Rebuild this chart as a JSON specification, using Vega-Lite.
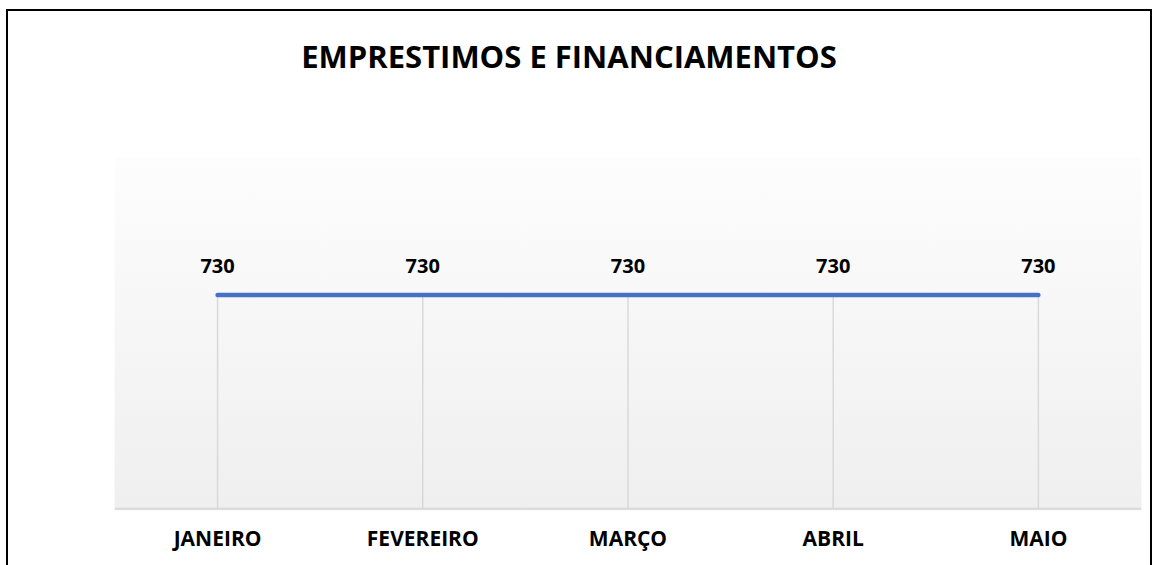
{
  "$schema": "https://vega.github.io/schema/vega-lite/v6.json",
  "autosize": {"type": "none"},
  "width": 1144,
  "height": 570,
  "padding": {"left": 7, "top": 10, "right": 9, "bottom": 0},
  "background": "#ffffff",
  "config": {
    "view": {"stroke": "#000000", "strokeWidth": 2, "fill": "#ffffff"},
    "font": "Open Sans"
  },
  "title": {
    "text": "EMPRESTIMOS E FINANCIAMENTOS",
    "font": "Open Sans",
    "fontSize": 31,
    "fontWeight": "bold",
    "color": "#000000",
    "anchor": "middle",
    "baseline": "alphabetic",
    "offset": -89,
    "dx": -10
  },
  "data": {
    "values": [
      {"month": "JANEIRO", "value": 730},
      {"month": "FEVEREIRO", "value": 730},
      {"month": "MARÇO", "value": 730},
      {"month": "ABRIL", "value": 730},
      {"month": "MAIO", "value": 730}
    ]
  },
  "layer": [
    {
      "mark": {
        "type": "rect",
        "fill": {
          "gradient": "linear",
          "x1": 0, "y1": 0, "x2": 0, "y2": 1,
          "stops": [
            {"offset": 0, "color": "#fdfdfd"},
            {"offset": 1, "color": "#efefef"}
          ]
        },
        "stroke": {
          "gradient": "linear",
          "x1": 0, "y1": 0, "x2": 0, "y2": 1,
          "stops": [
            {"offset": 0, "color": "#fdfdfd"},
            {"offset": 1, "color": "#efefef"}
          ]
        },
        "strokeWidth": 0.8
      },
      "encoding": {
        "x": {
          "field": "month",
          "type": "nominal",
          "sort": null,
          "scale": {
            "type": "band",
            "domain": ["JANEIRO", "FEVEREIRO", "MARÇO", "ABRIL", "MAIO"],
            "paddingInner": 0,
            "paddingOuter": 0.2875,
            "align": 0.915
          },
          "axis": {
            "orient": "bottom",
            "offset": -72,
            "domain": false,
            "ticks": false,
            "grid": false,
            "title": null,
            "labelAngle": 0,
            "labelFont": "Open Sans",
            "labelFontSize": 21,
            "labelFontWeight": "bold",
            "labelColor": "#000000",
            "labelPadding": 20
          }
        },
        "y": {
          "datum": 1200,
          "type": "quantitative",
          "scale": {"domain": [-246.9, 1707.4], "nice": false, "zero": false},
          "axis": null
        },
        "y2": {"datum": 0}
      }
    },
    {
      "mark": {"type": "bar", "color": "#d9d9d9", "stroke": "#d9d9d9", "strokeWidth": 0.5},
      "encoding": {
        "x": {"field": "month", "type": "nominal"},
        "y": {"datum": 0, "type": "quantitative"},
        "y2": {"datum": -6}
      }
    },
    {
      "mark": {"type": "rule", "color": "#d9d9d9", "strokeWidth": 1.5},
      "encoding": {
        "x": {"field": "month", "type": "nominal"},
        "y": {"field": "value", "type": "quantitative"},
        "y2": {"datum": 0}
      }
    },
    {
      "mark": {"type": "line", "color": "#4472C4", "strokeWidth": 4.5, "strokeCap": "round"},
      "encoding": {
        "x": {"field": "month", "type": "nominal"},
        "y": {"field": "value", "type": "quantitative"}
      }
    },
    {
      "mark": {"type": "text", "font": "Open Sans", "fontSize": 20, "fontWeight": "bold", "color": "#000000", "baseline": "alphabetic", "dy": -22},
      "encoding": {
        "x": {"field": "month", "type": "nominal"},
        "y": {"field": "value", "type": "quantitative"},
        "text": {"field": "value", "type": "quantitative"}
      }
    }
  ]
}
